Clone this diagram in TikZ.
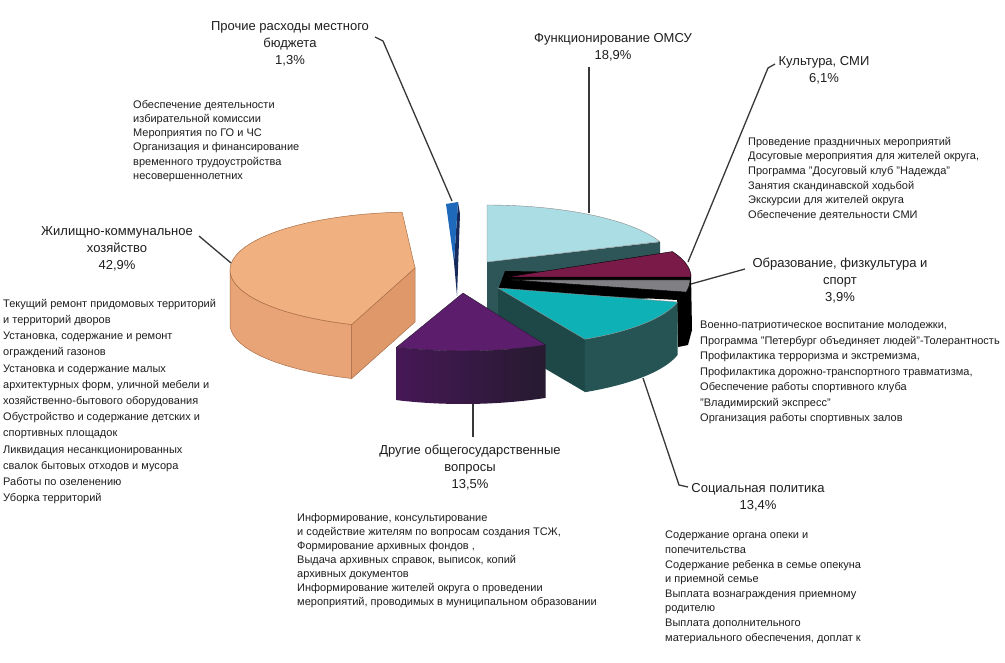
\documentclass[tikz,border=0pt]{standalone}
\usepackage{fontspec}
\setmainfont{Liberation Sans}
\usetikzlibrary{positioning}
\definecolor{lblue}{RGB}{170,221,228}
\definecolor{slate}{RGB}{46,86,88}
\definecolor{cmaroon}{RGB}{122,26,72}
\definecolor{mgray}{RGB}{128,128,132}
\definecolor{cteal}{RGB}{14,178,182}
\definecolor{tealwall}{RGB}{30,72,72}
\definecolor{tealside}{RGB}{38,84,84}
\definecolor{purp}{RGB}{92,30,108}
\definecolor{purpwall}{RGB}{70,24,86}
\definecolor{purpdark}{RGB}{38,26,48}
\definecolor{peach}{RGB}{240,176,128}
\definecolor{peachwall}{RGB}{232,164,118}
\definecolor{peachside}{RGB}{222,152,106}
\definecolor{peachline}{RGB}{170,110,70}
\definecolor{bluebar}{RGB}{30,105,185}
\definecolor{navy}{RGB}{22,42,92}
\definecolor{leadgray}{RGB}{55,55,55}
\definecolor{ink}{RGB}{30,30,30}
\tikzset{
    lbl/.style={
        font=\fontsize{13}{17}\selectfont,
        align=center, anchor=north,
        inner sep=0pt, text=ink
    },
    body/.style={
        font=\fontsize{11}{#1}\selectfont,
        align=left, anchor=north west,
        inner sep=0pt, text=ink
    },
    body/.default=14.5,
    piece/.style={
        draw=black!45, line width=0.4pt
    },
    peachpiece/.style={
        draw=peachline, line width=0.5pt
    },
    leader/.style={
        draw=leadgray, line width=1.3pt
    }
}

\begin{document}
\begin{tikzpicture}[x=1pt,y=-1pt]
    \useasboundingbox (0,0) rectangle (1005,663);
    \fill[white] (0,0) rectangle (1005,663);

    % Функционирование ОМСУ
    \fill[slate] (487,262) -- (660,242) -- (660,297) -- (487,317) -- cycle;
    \filldraw[piece, fill=lblue] (487,262)
        -- plot[domain=-90:-21, samples=40] ({487+185*cos(\x)},{262+57*sin(\x)}) -- cycle;

    % walls of the thin slices
    \fill[black] (505,271) -- (691,274) -- (692,330) -- (688,345) -- (678,347)
        -- (677,300) -- (498,290) -- cycle;
    \filldraw[piece, draw=black, fill=cmaroon] (507,277)
        -- plot[domain=-26:0, samples=20] ({507+184*cos(\x)},{277+58*sin(\x)}) -- cycle;
    \filldraw[piece, draw=black, fill=mgray] (512,280)
        -- plot[domain=0:12, samples=10] ({512+178*cos(\x)},{280+58*sin(\x)}) -- cycle;

    % Социальная политика
    \fill[tealwall] (498,288) -- (585,339) -- (585,392) -- (498,341) -- cycle;
    \fill[tealside] plot[domain=14:62, samples=30] ({498+185*cos(\x)},{288+58*sin(\x)})
        -- plot[domain=62:14, samples=30] ({498+185*cos(\x)},{341+58*sin(\x)}) -- cycle;
    \filldraw[piece, fill=cteal] (498,288)
        -- plot[domain=14:62, samples=30] ({498+185*cos(\x)},{288+58*sin(\x)}) -- cycle;

    % Жилищно-коммунальное хозяйство
    \filldraw[peachpiece, fill=peachwall] plot[domain=110:180, samples=30] ({415+185*cos(\x)},{270+58*sin(\x)})
        -- plot[domain=180:110, samples=30] ({415+185*cos(\x)},{324+58*sin(\x)}) -- cycle;
    \filldraw[peachpiece, fill=peachside] (351.7,324.5) -- (415,268) -- (415,322) -- (351.7,378.5) -- cycle;
    \filldraw[peachpiece, fill=peach] (415,268)
        -- plot[domain=110:266, samples=60] ({415+185*cos(\x)},{270+58*sin(\x)}) -- cycle;

    % Другие общегосударственные вопросы
    \shade[left color=purpwall, right color=purpdark]
        plot[domain=63.5:111, samples=30] ({463+185*cos(\x)},{293+58*sin(\x)})
        -- plot[domain=111:63.5, samples=30] ({463+185*cos(\x)},{346+58*sin(\x)}) -- cycle;
    \filldraw[piece, draw=purpdark, fill=purp] (463,293)
        -- plot[domain=63.5:111, samples=30] ({463+185*cos(\x)},{293+58*sin(\x)}) -- cycle;

    % Прочие расходы
    \fill[navy] (458,202) -- (460,214) -- (457,296) -- (454,262) -- cycle;
    \fill[bluebar] (446,204) -- (458,202) -- (454,262) -- cycle;

    % labels
    \node[lbl] (prochie) at (290,21) {Прочие расходы местного\\бюджета\\1,3\%};
    \node[lbl] (omsu) at (613,33) {Функционирование ОМСУ\\18,9\%};
    \node[lbl] (kult) at (824,56) {Культура, СМИ\\6,1\%};
    \node[lbl] (zhkh) at (117,226) {Жилищно-коммунальное\\хозяйство\\42,9\%};
    \node[lbl] (obraz) at (840,258) {Образование, физкультура и\\спорт\\3,9\%};
    \node[lbl] (drugie) at (470,445) {Другие общегосударственные\\вопросы\\13,5\%};
    \node[lbl] (socpol) at (758,483) {Социальная политика\\13,4\%};

    \node[body=14.2] (prochie-txt) at (133,100) {Обеспечение деятельности\\избирательной комиссии\\Мероприятия по ГО и ЧС\\Организация и финансирование\\временного трудоустройства\\несовершеннолетних};
    \node[body=14.6] (kult-txt) at (748,137) {Проведение праздничных мероприятий\\Досуговые мероприятия для жителей округа,\\Программа "Досуговый клуб "Надежда"\\Занятия скандинавской ходьбой\\Экскурсии для жителей округа\\Обеспечение деятельности СМИ};
    \node[body=16.2] (zhkh-txt) at (3,299) {Текущий ремонт придомовых территорий\\и территорий дворов\\Установка, содержание и ремонт\\ограждений газонов\\Установка и содержание малых\\архитектурных форм, уличной мебели и\\хозяйственно-бытового оборудования\\Обустройство и содержание детских и\\спортивных площадок\\Ликвидация несанкционированных\\свалок бытовых отходов и мусора\\Работы по озеленению\\Уборка территорий};
    \node[body=15.5] (obraz-txt) at (700,321) {Военно-патриотическое воспитание молодежки,\\Программа "Петербург объединяет людей"-Толерантность\\Профилактика терроризма и экстремизма,\\Профилактика дорожно-транспортного травматизма,\\Обеспечение работы спортивного клуба\\"Владимирский экспресс"\\Организация работы спортивных залов};
    \node[body=14] (drugie-txt) at (297,513) {Информирование, консультирование\\и содействие жителям по вопросам создания ТСЖ,\\Формирование архивных фондов ,\\Выдача архивных справок, выписок, копий\\архивных документов\\Информирование жителей округа о проведении\\мероприятий,  проводимых в муниципальном образовании};
    \node[body=14.6] (socpol-txt) at (665,531) {Содержание органа опеки и\\попечительства\\Содержание ребенка в семье опекуна\\и приемной семье\\Выплата вознаграждения приемному\\родителю\\Выплата дополнительного\\материального обеспечения, доплат к};

    % leader lines
    \coordinate (prochie-a) at (375,37);
    \coordinate (prochie-b) at (383,41);
    \coordinate (prochie-end) at (452,201);
    \coordinate (omsu-a) at (589,67);
    \coordinate (omsu-end) at (589,213);
    \coordinate (kult-a) at (775,64);
    \coordinate (kult-b) at (768,68);
    \coordinate (kult-end) at (688,262);
    \coordinate (obraz-a) at (745,269);
    \coordinate (obraz-end) at (691,284);
    \coordinate (socpol-a) at (688,487);
    \coordinate (socpol-b) at (679,485);
    \coordinate (socpol-end) at (643,378);
    \coordinate (drugie-a) at (473,437);
    \coordinate (drugie-end) at (473,404);
    \coordinate (zhkh-a) at (199,236);
    \coordinate (zhkh-end) at (231,263);

    \draw[leader] (prochie-a) -- (prochie-b) -- (prochie-end);
    \draw[leader] (omsu-a) -- (omsu-end);
    \draw[leader] (kult-a) -- (kult-b) -- (kult-end);
    \draw[leader] (obraz-a) -- (obraz-end);
    \draw[leader] (socpol-a) -- (socpol-b) -- (socpol-end);
    \draw[leader] (drugie-a) -- (drugie-end);
    \draw[leader] (zhkh-a) -- (zhkh-end);
\end{tikzpicture}
\end{document}
